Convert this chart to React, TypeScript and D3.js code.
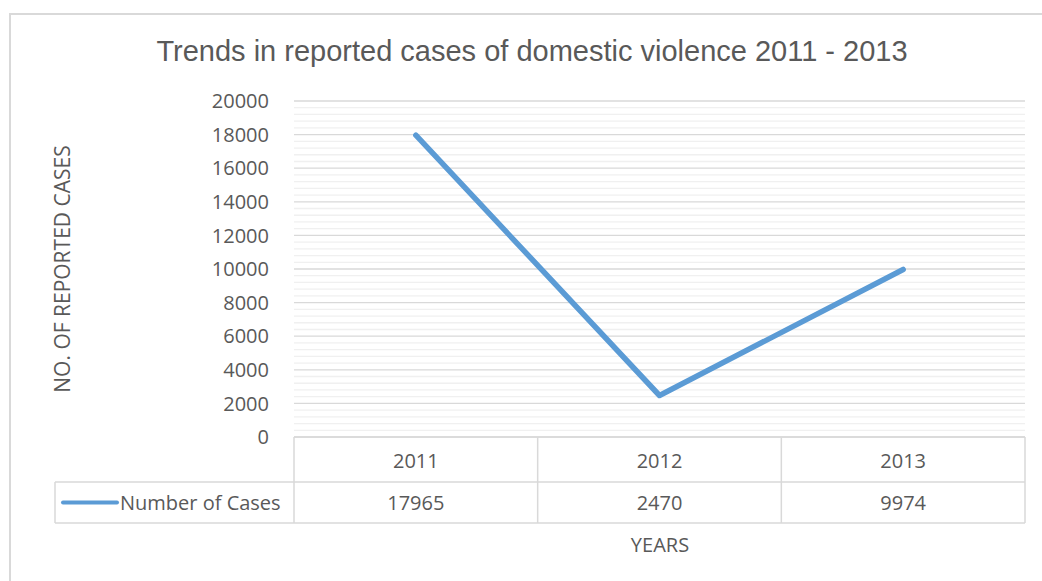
import React from "react";
import * as d3 from "d3";

const years = ["2011", "2012", "2013"];
const cases = [17965, 2470, 9974];
const seriesName = "Number of Cases";
const yTicks = [0, 2000, 4000, 6000, 8000, 10000, 12000, 14000, 16000, 18000, 20000];

const W = 1042;
const H = 581;
const plot = { left: 294, right: 1025, top: 101, bottom: 437 };
const rowH1 = 45;
const rowH2 = 41;
const legendLeft = 55;
const lineColor = "#5B9BD5";
const textColor = "#595959";
const bodyFont = "'Open Sans', 'Noto Sans', sans-serif";

export default function App() {
  const x = d3.scaleBand<string>().domain(years).range([plot.left, plot.right]);
  const y = d3.scaleLinear().domain([0, 20000]).range([plot.bottom, plot.top]);
  const minor = d3.range(0, 20001, 400);
  const line = d3
    .line<number>()
    .x((_, i) => (x(years[i]) as number) + x.bandwidth() / 2)
    .y((d) => y(d));

  const r1 = plot.bottom + rowH1;
  const r2 = r1 + rowH2;

  return (
    <svg
      width={W}
      height={H}
      style={{ position: "absolute", left: 0, top: 0, background: "#fff" }}
    >
      <rect x={10} y={14} width={W + 20} height={H + 20} fill="#fff" stroke="#d9d9d9" strokeWidth={2} />
      <text
        x={532}
        y={61}
        textAnchor="middle"
        fontFamily="'Liberation Sans', Arial, sans-serif"
        fontSize={29}
        fill={textColor}
      >
        Trends in reported cases of domestic violence 2011 - 2013
      </text>

      {minor.map((v) => (
        <line
          key={"m" + v}
          x1={plot.left}
          x2={plot.right}
          y1={y(v)}
          y2={y(v)}
          stroke={v % 2000 === 0 ? "#d9d9d9" : "#f0f0f0"}
          strokeWidth={1.3}
        />
      ))}

      {yTicks.map((v) => (
        <text
          key={"t" + v}
          x={269}
          y={y(v)}
          dy="0.36em"
          textAnchor="end"
          fontFamily={bodyFont}
          fontSize={20}
          fill={textColor}
        >
          {v}
        </text>
      ))}

      <text
        transform={`translate(70, ${(plot.top + plot.bottom) / 2}) rotate(-90)`}
        textAnchor="middle"
        fontFamily={bodyFont}
        fontSize={21}
        fill={textColor}
      >
        NO. OF REPORTED CASES
      </text>

      {/* data table beneath the category axis */}
      <g stroke="#d9d9d9" strokeWidth={1.5} fill="none">
        <line x1={plot.left} x2={plot.right} y1={plot.bottom} y2={plot.bottom} />
        <line x1={legendLeft} x2={plot.right} y1={r1} y2={r1} />
        <line x1={legendLeft} x2={plot.right} y1={r2} y2={r2} />
        <line x1={legendLeft} x2={legendLeft} y1={r1} y2={r2} />
        {years.map((c) => (
          <line key={"v" + c} x1={x(c)} x2={x(c)} y1={plot.bottom} y2={r2} />
        ))}
        <line x1={plot.right} x2={plot.right} y1={plot.bottom} y2={r2} />
      </g>
      {years.map((c, i) => (
        <g key={"c" + c} fontFamily={bodyFont} fontSize={20} fill={textColor} textAnchor="middle">
          <text x={(x(c) as number) + x.bandwidth() / 2} y={(plot.bottom + r1) / 2 + 1} dy="0.36em">
            {c}
          </text>
          <text x={(x(c) as number) + x.bandwidth() / 2} y={(r1 + r2) / 2} dy="0.36em">
            {cases[i]}
          </text>
        </g>
      ))}
      <line
        x1={legendLeft + 8}
        x2={legendLeft + 62}
        y1={(r1 + r2) / 2}
        y2={(r1 + r2) / 2}
        stroke={lineColor}
        strokeWidth={4}
        strokeLinecap="round"
      />
      <text
        x={legendLeft + 65}
        y={(r1 + r2) / 2}
        dy="0.36em"
        fontFamily={bodyFont}
        fontSize={20}
        fill={textColor}
      >
        {seriesName}
      </text>

      <text
        x={660}
        y={545}
        dy="0.36em"
        textAnchor="middle"
        fontFamily={bodyFont}
        fontSize={20}
        fill={textColor}
      >
        YEARS
      </text>

      <path
        d={line(cases) ?? ""}
        fill="none"
        stroke={lineColor}
        strokeWidth={5.5}
        strokeLinecap="round"
        strokeLinejoin="round"
      />
    </svg>
  );
}
